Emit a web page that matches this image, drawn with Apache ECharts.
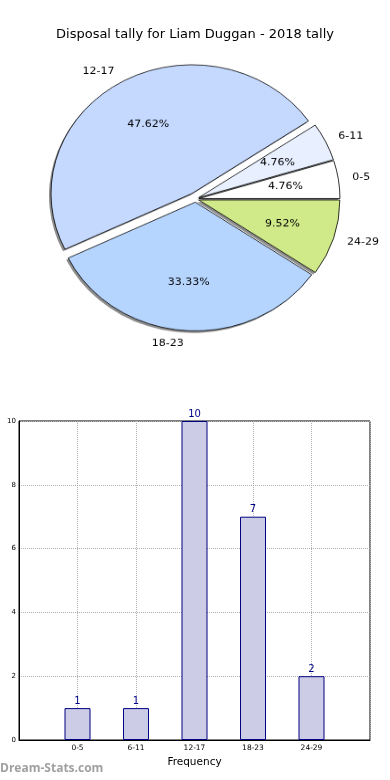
<!DOCTYPE html>
<html>
<head>
<meta charset="utf-8">
<script src="https://cdn.jsdelivr.net/npm/echarts@6/dist/echarts.min.js"></script>
<style>
  html, body { margin: 0; padding: 0; background: #fff; }
  #main { position: absolute; left: 0; top: 0; width: 390px; height: 780px; }
  #pie { position: absolute; left: 0; top: 0; width: 390px; height: 400px;
         transform-origin: 195px 199px; transform: scaleY(0.913); }
</style>
</head>
<body>
<div id="main"></div>
<div id="pie"></div>
<script>
// ---- data ----
const categories = ['0-5', '6-11', '12-17', '18-23', '24-29'];
const tallies = [1, 1, 10, 7, 2];
const titleText = 'Disposal tally for Liam Duggan - 2018 tally';
const xAxisName = 'Frequency';
const watermark = 'Dream-Stats.com';

// ---- styles ----
const pieColors = ['#ffffff', '#e8f0ff', '#c5d9ff', '#b5d5ff', '#d0ea8a'];
const explodePx = [3.5, 3.5, 7, 3.5, 3.5];
const FONT = 'DejaVu Sans';

// ---- main chart (title + bar) ----
const main = echarts.init(document.getElementById('main'), null, { renderer: 'canvas' });
main.setOption({
  animation: false,
  backgroundColor: '#fff',
  title: {
    text: titleText, left: 'center', top: 23,
    textStyle: { fontSize: 13, fontWeight: 'normal', fontFamily: FONT, color: '#000' }
  },
  grid: { left: 19, right: 20, top: 421, bottom: 40, show: true, borderColor: '#000', borderWidth: 1 },
  xAxis: {
    type: 'value', min: -1, max: 5, interval: 1,
    name: xAxisName, nameLocation: 'middle', nameGap: 17,
    nameTextStyle: { fontSize: 10.5, fontFamily: FONT, color: '#000' },
    axisLine: { show: true, onZero: false, lineStyle: { color: '#000', width: 1 } },
    axisTick: { show: false },
    axisLabel: {
      fontSize: 7.5, fontFamily: FONT, color: '#000', margin: 4,
      formatter: v => (categories[v] !== undefined ? categories[v] : '')
    },
    splitLine: { show: true, lineStyle: { type: 'dotted', color: '#b0b0b0', width: 1 } }
  },
  yAxis: {
    type: 'value', min: 0, max: 10, interval: 2,
    axisLine: { show: true, onZero: false, lineStyle: { color: '#000', width: 1 } },
    axisTick: { show: false },
    axisLabel: { fontSize: 7, fontFamily: FONT, color: '#000', margin: 3 },
    splitLine: { show: true, lineStyle: { type: 'dotted', color: '#b0b0b0', width: 1 } }
  },
  series: [{
    type: 'bar',
    barWidth: 26,
    data: tallies.map((v, i) => [i, v]),
    itemStyle: { color: '#ccccE6', borderColor: '#000080', borderWidth: 1 },
    label: { show: true, position: 'top', distance: 2, fontSize: 10, fontFamily: FONT, color: '#00008b' },
    emphasis: { disabled: true }
  }],
  graphic: [{
    type: 'text', left: 0, top: 763,
    style: { text: watermark, fill: '#a0a0a0', font: 'bold 12px "Open Sans"' }
  }]
});

// ---- pie chart (drawn in a vertically squashed container, like the original's elliptical pie) ----
const R = 141;
const CENTER = [195.5, 199];
const SHADOW_SHIFT = [-2, 2.2];
const total = tallies.reduce((a, b) => a + b, 0);
const HIDDEN = { color: 'rgba(0,0,0,0)', borderWidth: 0 };
const sliceStyle = { borderColor: '#000', borderWidth: 0.8 };

const offsets = [...new Set(explodePx)];
const shadowSeries = [], sliceSeries = [], pctSeries = [];
const common = {
  type: 'pie', startAngle: 0, clockwise: false,
  selectedMode: 'multiple', avoidLabelOverlap: false, silent: true,
  emphasis: { disabled: true }
};
offsets.forEach(off => {
  const inGroup = i => explodePx[i] === off;
  // shadow layer (shifted copy, gray)
  shadowSeries.push(Object.assign({}, common, {
    center: [CENTER[0] + SHADOW_SHIFT[0], CENTER[1] + SHADOW_SHIFT[1]], radius: [0, R],
    selectedOffset: off,
    data: categories.map((c, i) => ({
      name: c, value: tallies[i], selected: true,
      itemStyle: inGroup(i) ? { color: '#8e8e8e', borderWidth: 0 } : HIDDEN
    })),
    label: { show: false }, labelLine: { show: false }
  }));
  // slices + category labels
  sliceSeries.push(Object.assign({}, common, {
    center: CENTER, radius: [0, R],
    selectedOffset: off,
    data: categories.map((c, i) => ({
      name: c, value: tallies[i], selected: true,
      itemStyle: inGroup(i) ? Object.assign({}, sliceStyle, { color: pieColors[i] }) : HIDDEN,
      label: { show: inGroup(i) }
    })),
    label: { position: 'outside', formatter: '{b}', fontSize: 11, fontFamily: FONT, color: '#000', distanceToLabelLine: 0 },
    labelLine: { show: false, length: 14, length2: 0 }
  }));
  // percentage labels at 0.6 R
  pctSeries.push(Object.assign({}, common, {
    center: CENTER, radius: [R * 0.2, R],
    selectedOffset: off,
    data: categories.map((c, i) => ({
      name: c, value: tallies[i], selected: true,
      itemStyle: HIDDEN,
      label: { show: inGroup(i) }
    })),
    label: {
      position: 'inner', fontSize: 11, fontFamily: FONT, color: '#000',
      formatter: p => (p.value / total * 100).toFixed(2) + '%'
    },
    labelLine: { show: false }
  }));
});

const pie = echarts.init(document.getElementById('pie'), null, { renderer: 'canvas' });
pie.setOption({ animation: false, series: [...shadowSeries, ...sliceSeries, ...pctSeries] });
</script>
</body>
</html>
